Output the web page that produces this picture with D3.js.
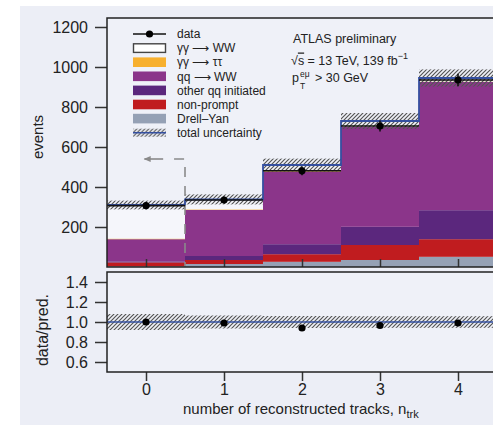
<!DOCTYPE html>
<html>
<head>
<meta charset="utf-8">
<script src="https://cdn.jsdelivr.net/npm/d3@7"></script>
<style>
  body { margin: 0; background: #fff; }
  svg { display: block; font-family: "Liberation Sans", Arial, sans-serif; }
</style>
</head>
<body>
<svg id="chart" width="493" height="425"></svg>
<script>
// bins of n_trk
const nTrk = [0, 1, 2, 3, 4];
// observed events and stat. error
const dataEvents = [307, 335, 481, 705, 935];
const dataErr = [18, 18, 22, 27, 31];
// stacked predictions (bottom to top)
const drellYan = [3, 15, 26, 35, 51];
const nonPrompt = [20, 20, 38, 75, 88];
const otherQQ = [5, 20, 50, 91, 145];
const qqWW = [111, 230, 363, 499, 641];
const aaTauTau = [3, 3, 3, 2, 2];
const aaWW = [168, 50, 30, 28, 18];
const totalUnc = [22, 25, 32, 40, 43];
// lower panel
const ratio = [1.0, 0.99, 0.94, 0.965, 0.99];
const ratioUnc = [0.08, 0.065, 0.06, 0.058, 0.058];
// ticks
const yTicksMain = [200, 400, 600, 800, 1000, 1200];
const yTicksRatio = [0.6, 0.8, 1.0, 1.2, 1.4];

const svg = d3.select("#chart");
const W = 493, H = 425;

// fons lila clar amb marge blanc
svg.append("rect").attr("x", 20).attr("y", 6).attr("width", W - 20).attr("height", H - 6).attr("fill", "#eceef6");

const left = 107, right = 497;
const main = { top: 18, bottom: 267 };
const rat = { top: 272, bottom: 372 };

const x = d3.scaleLinear().domain([-0.5, 4.5]).range([left, right]);
const y = d3.scaleLinear().domain([0, 1245]).range([main.bottom, main.top]);
const yr = d3.scaleLinear().domain([0.5, 1.5]).range([rat.bottom, rat.top]);

const defs = svg.append("defs");
defs.append("pattern")
  .attr("id", "hatch")
  .attr("patternUnits", "userSpaceOnUse")
  .attr("width", 4).attr("height", 4)
  .append("path")
  .attr("d", "M-1,1 l2,-2 M0,4 l4,-4 M3,5 l2,-2")
  .attr("stroke", "#555").attr("stroke-width", 1.2);

// plot backgrounds
svg.append("rect").attr("x", left).attr("y", main.top).attr("width", right - left).attr("height", main.bottom - main.top).attr("fill", "#eff1f8");
svg.append("rect").attr("x", left).attr("y", rat.top).attr("width", right - left).attr("height", rat.bottom - rat.top).attr("fill", "#eff1f8");

// stack
const keys = ["dy", "np", "oqq", "qqww", "aatt", "aaww"];
const colors = { dy: "#95a1b5", np: "#c01c1f", oqq: "#5b277d", qqww: "#8b358a", aatt: "#f7b02f", aaww: "#f5f6fb" };
const rows = nTrk.map((n, i) => ({
  n, dy: drellYan[i], np: nonPrompt[i], oqq: otherQQ[i], qqww: qqWW[i], aatt: aaTauTau[i], aaww: aaWW[i]
}));
const series = d3.stack().keys(keys)(rows);

svg.append("g").selectAll("g")
  .data(series)
  .join("g")
  .attr("fill", d => colors[d.key])
  .selectAll("rect")
  .data(d => d)
  .join("rect")
  .attr("x", d => x(d.data.n - 0.5))
  .attr("width", x(1) - x(0))
  .attr("y", d => y(d[1]))
  .attr("height", d => y(d[0]) - y(d[1]));

const totals = rows.map(r => keys.reduce((s, k) => s + r[k], 0));

// uncertainty band
svg.append("g").selectAll("rect")
  .data(nTrk)
  .join("rect")
  .attr("x", n => x(n - 0.5))
  .attr("width", x(1) - x(0))
  .attr("y", (n, i) => y(totals[i] + totalUnc[i]))
  .attr("height", (n, i) => y(totals[i] - totalUnc[i]) - y(totals[i] + totalUnc[i]))
  .attr("fill", "url(#hatch)");

// total prediction outline
const step = [];
nTrk.forEach((n, i) => { step.push([n - 0.5, totals[i]]); step.push([n + 0.5, totals[i]]); });
svg.append("path")
  .attr("d", d3.line().x(d => x(d[0])).y(d => y(d[1]))(step))
  .attr("fill", "none").attr("stroke", "#3550a0").attr("stroke-width", 1.8);

// dashed cut marker
const cutX = 0.5, cutY = 540;
svg.append("path")
  .attr("d", `M${x(0.36)},${y(cutY)} H${x(cutX)} V${y(0)}`)
  .attr("fill", "none").attr("stroke", "#8a8a8a").attr("stroke-width", 1.6)
  .attr("stroke-dasharray", "10,9");
svg.append("line")
  .attr("x1", x(0.22)).attr("x2", x(-0.02)).attr("y1", y(cutY)).attr("y2", y(cutY))
  .attr("stroke", "#8a8a8a").attr("stroke-width", 1.6);
svg.append("path")
  .attr("d", `M${x(-0.03)},${y(cutY)} l7,-3 v6 z`)
  .attr("fill", "#8a8a8a");

// data
const gData = svg.append("g");
gData.selectAll("line.xb").data(nTrk).join("line")
  .attr("x1", n => x(n - 0.5)).attr("x2", n => x(n + 0.5))
  .attr("y1", (n, i) => y(dataEvents[i])).attr("y2", (n, i) => y(dataEvents[i]))
  .attr("stroke", "#111").attr("stroke-width", 1.6);
gData.selectAll("line.yb").data(nTrk).join("line")
  .attr("x1", n => x(n)).attr("x2", n => x(n))
  .attr("y1", (n, i) => y(dataEvents[i] - dataErr[i])).attr("y2", (n, i) => y(dataEvents[i] + dataErr[i]))
  .attr("stroke", "#111").attr("stroke-width", 1.6);
gData.selectAll("circle").data(nTrk).join("circle")
  .attr("cx", n => x(n)).attr("cy", (n, i) => y(dataEvents[i])).attr("r", 3.6).attr("fill", "#000");

// ratio panel
svg.append("g").selectAll("rect")
  .data(nTrk)
  .join("rect")
  .attr("x", n => x(n - 0.5))
  .attr("width", x(1) - x(0))
  .attr("y", (n, i) => yr(1 + ratioUnc[i]))
  .attr("height", (n, i) => yr(1 - ratioUnc[i]) - yr(1 + ratioUnc[i]))
  .attr("fill", "url(#hatch)");
svg.append("line")
  .attr("x1", left).attr("x2", right).attr("y1", yr(1)).attr("y2", yr(1))
  .attr("stroke", "#3550a0").attr("stroke-width", 1.5);
svg.append("g").selectAll("circle").data(nTrk).join("circle")
  .attr("cx", n => x(n)).attr("cy", (n, i) => yr(ratio[i])).attr("r", 3.6).attr("fill", "#000");

// axes
const axisColor = "#333";
function styleAxis(g) {
  g.select(".domain").remove();
  g.selectAll("line").attr("stroke", axisColor).attr("stroke-width", 1.5);
  g.selectAll("text").attr("fill", "#222").style("font-size", "16px").attr("font-family", "Liberation Sans, Arial, sans-serif");
}
svg.append("g")
  .attr("transform", `translate(${left},0)`)
  .call(d3.axisLeft(y).tickValues(yTicksMain).tickSize(12).tickPadding(7).tickFormat(d3.format("d")))
  .call(styleAxis);
svg.append("g")
  .attr("transform", `translate(${left},0)`)
  .call(d3.axisLeft(yr).tickValues(yTicksRatio).tickSize(12).tickPadding(7).tickFormat(d3.format(".1f")))
  .call(styleAxis);
svg.append("g")
  .attr("transform", `translate(0,${rat.bottom})`)
  .call(d3.axisBottom(x).tickValues(nTrk).tickSize(9).tickPadding(3).tickFormat(d3.format("d")))
  .call(styleAxis);
// inner ticks on main panel bottom
svg.append("g")
  .attr("transform", `translate(0,${main.bottom})`)
  .call(d3.axisTop(x).tickValues(nTrk).tickSize(8).tickFormat(""))
  .call(styleAxis);

// frames
[main, rat].forEach(p => {
  svg.append("path")
    .attr("d", `M${right},${p.top} H${left} V${p.bottom} H${right}`)
    .attr("fill", "none").attr("stroke", "#222").attr("stroke-width", 1.5);
});

// axis titles
svg.append("text")
  .attr("transform", `translate(43,137) rotate(-90)`)
  .attr("text-anchor", "middle").style("font-size", "15px").attr("fill", "#222")
  .text("events");
svg.append("text")
  .attr("transform", `translate(48,330) rotate(-90)`)
  .attr("text-anchor", "middle").style("font-size", "16px").attr("fill", "#222")
  .text("data/pred.");
const xt = svg.append("text")
  .attr("x", 183).attr("y", 414).style("font-size", "15px").attr("fill", "#222");
xt.append("tspan").text("number of reconstructed tracks, n");
xt.append("tspan").attr("dy", 4).style("font-size", "11px").text("trk");

// legend
const legendItems = [
  { label: "data", type: "data" },
  { label: "γγ ⟶ WW", type: "box", color: colors.aaww },
  { label: "γγ ⟶ ττ", type: "fill", color: colors.aatt },
  { label: "qq ⟶ WW", type: "fill", color: colors.qqww },
  { label: "other qq initiated", type: "fill", color: colors.oqq },
  { label: "non-prompt", type: "fill", color: colors.np },
  { label: "Drell–Yan", type: "fill", color: colors.dy },
  { label: "total uncertainty", type: "unc" }
];
const lg = svg.append("g").attr("transform", "translate(133,34)");
legendItems.forEach((d, i) => {
  const g = lg.append("g").attr("transform", `translate(0,${i * 14.1})`);
  if (d.type === "data") {
    g.append("line").attr("x1", 0).attr("x2", 33).attr("stroke", "#111").attr("stroke-width", 1.6);
    g.append("circle").attr("cx", 16.5).attr("r", 3.6).attr("fill", "#000");
  } else if (d.type === "box") {
    g.append("rect").attr("x", 0.5).attr("y", -4.3).attr("width", 32).attr("height", 8.6)
      .attr("fill", "#fff").attr("stroke", "#444").attr("stroke-width", 1.4);
  } else if (d.type === "fill") {
    g.append("rect").attr("x", 0).attr("y", -4.8).attr("width", 33).attr("height", 9.6).attr("fill", d.color);
  } else {
    g.append("rect").attr("x", 0).attr("y", -4).attr("width", 33).attr("height", 8).attr("fill", "url(#hatch)");
    g.append("line").attr("x1", 0).attr("x2", 33).attr("stroke", "#3550a0").attr("stroke-width", 1.5);
  }
  g.append("text").attr("x", 44).attr("y", 4.2).style("font-size", "12px").attr("fill", "#222").text(d.label);
});

// ATLAS label
const info = svg.append("g").attr("fill", "#222").style("font-size", "12.5px");
info.append("text").attr("x", 293).attr("y", 43).text("ATLAS preliminary");
const l2 = info.append("text").attr("x", 291).attr("y", 64.5);
l2.append("tspan").text("√");
l2.append("tspan").style("text-decoration", "overline").text("s");
l2.append("tspan").text(" = 13 TeV, 139 fb");
l2.append("tspan").attr("dy", -6).style("font-size", "9px").text("−1");
info.append("text").attr("x", 292).attr("y", 82).text("p");
info.append("text").attr("x", 300).attr("y", 77).style("font-size", "8.5px").text("eμ");
info.append("text").attr("x", 300).attr("y", 89).style("font-size", "8.5px").text("T");
info.append("text").attr("x", 315).attr("y", 82).text("> 30 GeV");
</script>
</body>
</html>
